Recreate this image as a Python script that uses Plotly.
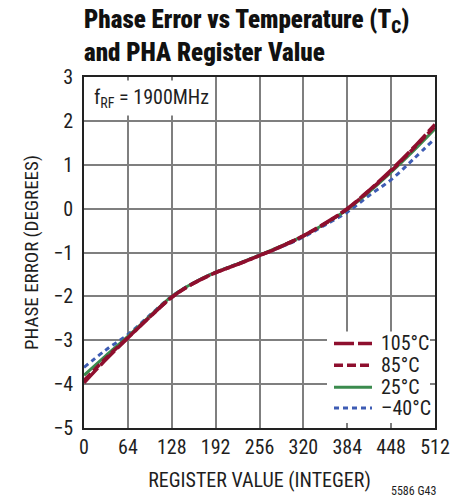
import plotly.graph_objects as go

# Register value sweep (PHA register, integer)
register = [0, 32, 64, 96, 128, 160, 192, 224, 256, 288, 320, 352, 384, 416, 448, 480, 512]

# Phase error in degrees at each temperature
err_105 = [-3.97, -3.44, -2.95, -2.47, -2.02, -1.70, -1.46, -1.27, -1.07, -0.86, -0.62, -0.33, 0.00, 0.42, 0.88, 1.38, 1.92]
err_85 = [-3.92, -3.41, -2.94, -2.47, -2.02, -1.70, -1.46, -1.27, -1.07, -0.86, -0.62, -0.34, -0.01, 0.41, 0.86, 1.36, 1.88]
err_25 = [-3.80, -3.35, -2.91, -2.45, -2.00, -1.69, -1.45, -1.26, -1.06, -0.85, -0.62, -0.34, -0.02, 0.38, 0.83, 1.31, 1.82]
err_m40 = [-3.62, -3.22, -2.87, -2.43, -2.00, -1.69, -1.45, -1.26, -1.06, -0.87, -0.65, -0.37, -0.08, 0.30, 0.66, 1.12, 1.60]

series_names = ["105°C", "85°C", "25°C", "–40°C"]
series_values = [err_105, err_85, err_25, err_m40]

x_ticks = [0, 64, 128, 192, 256, 320, 384, 448, 512]
y_ticks = [-5, -4, -3, -2, -1, 0, 1, 2, 3]

styles = {
    "105°C": dict(color="#8e0f2e", width=3.5, dash="20px,4px"),
    "85°C": dict(color="#8e0f2e", width=3.5, dash="9px,4px"),
    "25°C": dict(color="#3b8b4e", width=3, dash="solid"),
    "–40°C": dict(color="#3e5cb4", width=3, dash="5px,4px"),
}

NARROW = "Roboto Condensed, Liberation Sans, sans-serif"
TEXT = "#1e1e1e"

W, H = 466, 500
L, R, T, B = 84, 31, 77, 70
PW, PH = W - L - R, H - T - B


def px_x(px):
    return (px - L) / PW


def px_y(py):
    return (H - B - py) / PH


fig = go.Figure()

# draw coldest first so the hot curves sit on top
for name, vals in reversed(list(zip(series_names, series_values))):
    fig.add_trace(go.Scatter(
        x=register, y=vals, mode="lines", name=name,
        line=dict(shape="spline", smoothing=1.0, **styles[name]),
        showlegend=False,
    ))

shapes = []
annotations = []

# legend panel
shapes.append(dict(type="rect", xref="paper", yref="paper",
                   x0=px_x(327), x1=px_x(430), y0=px_y(425), y1=px_y(333),
                   fillcolor="white", line=dict(width=0), layer="above"))
row_y = [345, 367, 389, 410]
for name, ry in zip(series_names, row_y):
    st = styles[name]
    shapes.append(dict(type="line", xref="paper", yref="paper",
                       x0=px_x(334), x1=px_x(372), y0=px_y(ry), y1=px_y(ry),
                       line=dict(color=st["color"], width=st["width"], dash=st["dash"]),
                       layer="above"))
    annotations.append(dict(text=name, xref="paper", yref="paper",
                            x=px_x(379), y=px_y(ry), xanchor="left", yanchor="middle",
                            showarrow=False, font=dict(family=NARROW, size=20, color=TEXT)))

annotations.append(dict(text="f<sub>RF</sub> = 1900MHz", xref="paper", yref="paper",
                        x=px_x(89), y=px_y(98), xanchor="left", yanchor="middle",
                        showarrow=False, bgcolor="white", borderpad=4,
                        font=dict(family=NARROW, size=20, color=TEXT)))

annotations.append(dict(text="5586 G43", xref="paper", yref="paper",
                        x=px_x(438), y=px_y(493), xanchor="right", yanchor="middle",
                        showarrow=False, font=dict(family=NARROW, size=12, color=TEXT)))

axis_common = dict(
    showgrid=True, gridcolor="#7f7f7f", gridwidth=1.5,
    showline=True, linecolor="#222222", linewidth=2, mirror=True,
    zeroline=False, ticks="",
    tickfont=dict(family=NARROW, size=20, color=TEXT),
)

fig.update_layout(
    width=W, height=H,
    margin=dict(l=L, r=R, t=T, b=B),
    paper_bgcolor="white", plot_bgcolor="white",
    title=dict(
        text="Phase Error vs Temperature (T<sub>C</sub>)<br>and PHA Register Value",
        font=dict(family=NARROW, size=25, color="#111111", weight=900),
        x=0, xref="paper", xanchor="left", y=0.944, yref="container", yanchor="top",
    ),
    xaxis=dict(range=[0, 512], tickvals=x_ticks, ticklabelstandoff=0,
               title=dict(text="REGISTER VALUE (INTEGER)", standoff=15,
                          font=dict(family=NARROW, size=20, color=TEXT)),
               **axis_common),
    yaxis=dict(range=[-5, 3], tickvals=y_ticks, ticklabelstandoff=5,
               title=dict(text="PHASE ERROR (DEGREES)", standoff=9,
                          font=dict(family=NARROW, size=19, color=TEXT)),
               **axis_common),
    shapes=shapes,
    annotations=annotations,
)

fig.write_html("out.html")
